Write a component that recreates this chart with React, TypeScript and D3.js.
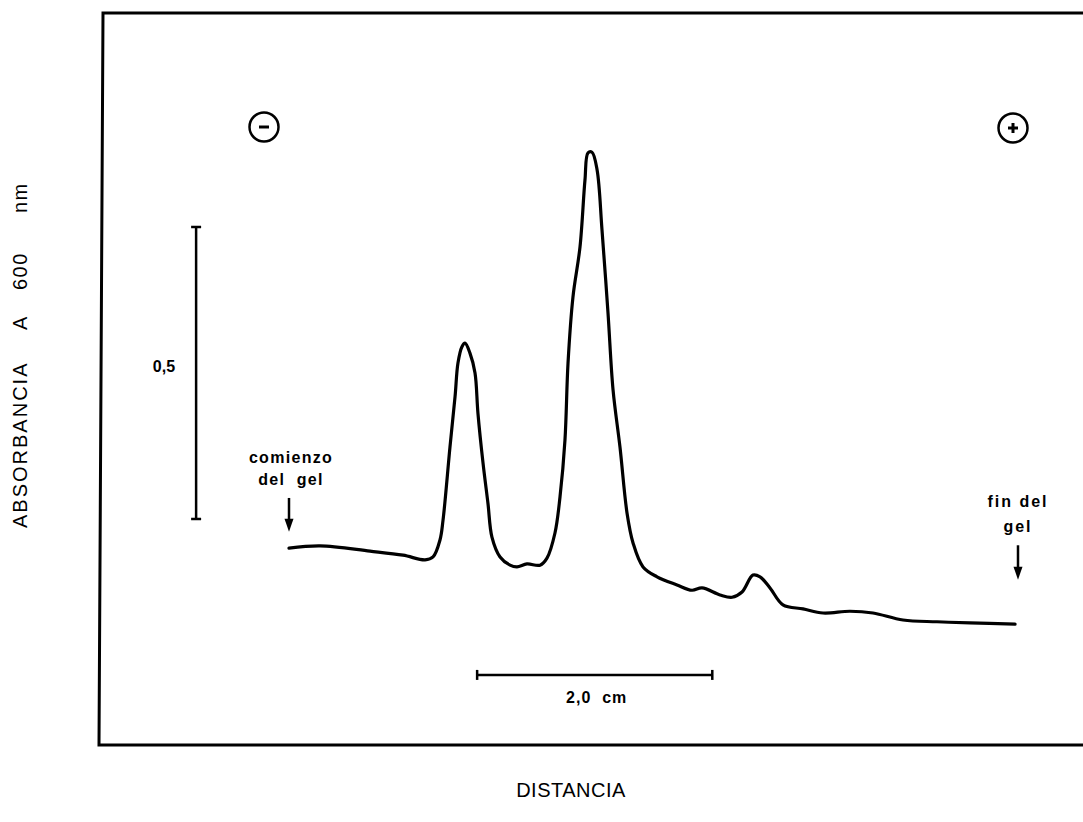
import React from 'react';
import * as d3 from 'd3';

// Densitometric trace: distance along gel (cm) vs absorbance at 600 nm
const distanceCm = [
  0.0, 0.264, 0.689, 0.97, 1.157, 1.225, 1.284, 1.31, 1.369, 1.412, 1.437, 1.471, 1.497,
  1.539, 1.582, 1.607, 1.65, 1.692, 1.726, 1.795, 1.88, 1.939, 2.024, 2.135, 2.194, 2.262,
  2.305, 2.347, 2.373, 2.415, 2.475, 2.517, 2.543, 2.577, 2.62, 2.662, 2.713, 2.756, 2.815,
  2.875, 2.926, 3.011, 3.13, 3.3, 3.427, 3.513, 3.666, 3.768, 3.853, 3.946, 4.006, 4.091,
  4.201, 4.372, 4.542, 4.771, 4.967, 5.222, 5.511, 5.792, 6.175,
];
const absorbance = [
  0.337, 0.341, 0.332, 0.325, 0.317, 0.322, 0.351, 0.385, 0.51, 0.596, 0.654, 0.682, 0.688,
  0.671, 0.637, 0.568, 0.483, 0.414, 0.356, 0.322, 0.308, 0.305, 0.31, 0.308, 0.32, 0.363,
  0.425, 0.522, 0.654, 0.767, 0.853, 0.967, 1.014, 1.015, 0.985, 0.882, 0.74, 0.608, 0.51,
  0.397, 0.346, 0.305, 0.288, 0.274, 0.265, 0.269, 0.257, 0.253, 0.262, 0.291, 0.288, 0.269,
  0.24, 0.233, 0.226, 0.229, 0.226, 0.214, 0.211, 0.209, 0.207,
];

const xDomain = [0, 6.2];
const yDomain = [0, 1.25];

// Scale bars
const absBarStart = 0.387;
const absBarLength = 0.5;
const absBarAtCm = -0.79;
const absBarLabel = '0,5';
const cmBar = [1.6, 3.6];
const cmBarAtAbs = 0.12;
const cmBarLabel = '2,0 cm';

// Annotations
const yTitleWords = ['ABSORBANCIA', 'A', '600', 'nm'];
const xTitle = 'DISTANCIA';
const startLabel = ['comienzo', 'del gel'];
const endLabel = ['fin del', 'gel'];
const startArrowAbs = [0.423, 0.365];
const endArrowAbs = [0.342, 0.283];

const FONT = '"Liberation Sans", Arial, Helvetica, sans-serif';

export default function App() {
  const x = d3.scaleLinear().domain(xDomain).range([289, 1018]);
  const y = d3.scaleLinear().domain(yDomain).range([745, 15]);

  const line = d3
    .line<number>()
    .x((_, i) => x(distanceCm[i]))
    .y((d) => y(d))
    .curve(d3.curveCatmullRom.alpha(0.5));

  const arrow = (cx: number, y1: number, y2: number, key: string) => (
    <g key={key}>
      <line x1={cx} x2={cx} y1={y1} y2={y2 - 10} stroke="#000" strokeWidth={2.5} />
      <polygon points={`${cx - 4.5},${y2 - 13} ${cx + 4.5},${y2 - 13} ${cx},${y2}`} fill="#000" />
    </g>
  );

  const bx = x(absBarAtCm);
  const by1 = y(absBarStart);
  const by2 = y(absBarStart + absBarLength);
  const hx1 = x(cmBar[0]);
  const hx2 = x(cmBar[1]);
  const hy = y(cmBarAtAbs);

  // y title word start positions (along rotated axis, in page y)
  const yTitleStarts = [528, 330, 290, 213];

  return (
    <svg
      width={1083}
      height={822}
      style={{ position: 'absolute', left: 0, top: 0, background: '#fff' }}
    >
      <rect x={0} y={0} width={1083} height={822} fill="#fff" />
      {/* frame */}
      <path
        d="M1090,13 L103,13 L99,745 L1090,745"
        fill="none"
        stroke="#000"
        strokeWidth={3}
        strokeLinejoin="miter"
      />

      {/* polarity signs */}
      <circle cx={264} cy={127} r={14.5} fill="none" stroke="#000" strokeWidth={2.5} />
      <line x1={259} x2={269} y1={127} y2={127} stroke="#000" strokeWidth={3} />
      <circle cx={1013} cy={128} r={14.5} fill="none" stroke="#000" strokeWidth={2.5} />
      <line x1={1008} x2={1018} y1={128} y2={128} stroke="#000" strokeWidth={3} />
      <line x1={1013} x2={1013} y1={123} y2={133} stroke="#000" strokeWidth={3} />

      {/* trace */}
      <path
        d={line(absorbance) || ''}
        fill="none"
        stroke="#000"
        strokeWidth={3.2}
        strokeLinejoin="round"
        strokeLinecap="round"
      />

      {/* vertical absorbance scale bar */}
      <line x1={bx} x2={bx} y1={by1} y2={by2} stroke="#000" strokeWidth={2.5} />
      <line x1={bx - 5} x2={bx + 5} y1={by1} y2={by1} stroke="#000" strokeWidth={2.5} />
      <line x1={bx - 5} x2={bx + 5} y1={by2} y2={by2} stroke="#000" strokeWidth={2.5} />
      <text
        x={bx - 21}
        y={(by1 + by2) / 2 - 1}
        textAnchor="end"
        fontFamily={FONT}
        fontWeight="bold"
        fontSize={16}
      >
        {absBarLabel}
      </text>

      {/* horizontal distance scale bar */}
      <line x1={hx1} x2={hx2} y1={hy} y2={hy} stroke="#000" strokeWidth={2.5} />
      <line x1={hx1} x2={hx1} y1={hy - 5} y2={hy + 5} stroke="#000" strokeWidth={2.5} />
      <line x1={hx2} x2={hx2} y1={hy - 5} y2={hy + 5} stroke="#000" strokeWidth={2.5} />
      <text
        x={(hx1 + hx2) / 2 + 2}
        y={hy + 28}
        textAnchor="middle"
        fontFamily={FONT}
        fontWeight="bold"
        fontSize={16}
        letterSpacing={1}
        style={{ whiteSpace: 'pre' }}
      >
        {cmBarLabel.replace(' ', '  ')}
      </text>

      {/* gel start / end */}
      <text x={x(0) + 2} y={463} textAnchor="middle" fontFamily={FONT} fontWeight="bold" fontSize={16} letterSpacing={1.3}>
        {startLabel[0]}
      </text>
      <text x={x(0) + 2} y={485} textAnchor="middle" fontFamily={FONT} fontWeight="bold" fontSize={16} letterSpacing={1.3} style={{ whiteSpace: 'pre' }}>
        {startLabel[1].replace(' ', '  ')}
      </text>
      {arrow(x(0), y(startArrowAbs[0]), y(startArrowAbs[1]), 'a1')}

      <text x={x(6.2)} y={507} textAnchor="middle" fontFamily={FONT} fontWeight="bold" fontSize={16} letterSpacing={2} style={{ whiteSpace: 'pre' }}>
        {endLabel[0]}
      </text>
      <text x={x(6.2)} y={532} textAnchor="middle" fontFamily={FONT} fontWeight="bold" fontSize={16} letterSpacing={2}>
        {endLabel[1]}
      </text>
      {arrow(x(6.2), y(endArrowAbs[0]), y(endArrowAbs[1]), 'a2')}

      {/* axis titles */}
      {yTitleWords.map((w, i) => (
        <text
          key={w}
          transform={`translate(27,${yTitleStarts[i]}) rotate(-90)`}
          textAnchor="start"
          fontFamily={FONT}
          fontSize={20}
          letterSpacing={i === 0 ? 2 : 1.5}
        >
          {w}
        </text>
      ))}
      <text x={571} y={797} textAnchor="middle" fontFamily={FONT} fontSize={20} letterSpacing={0.5}>
        {xTitle}
      </text>
    </svg>
  );
}
